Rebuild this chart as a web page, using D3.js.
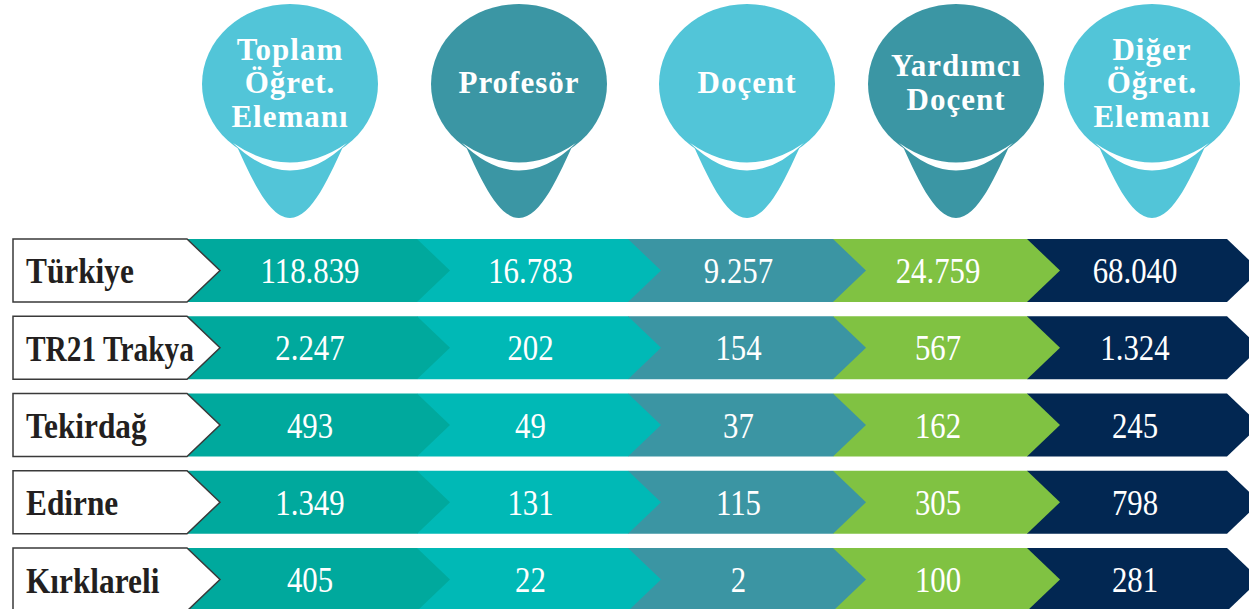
<!DOCTYPE html>
<html>
<head>
<meta charset="utf-8">
<script src="https://cdnjs.cloudflare.com/ajax/libs/d3/7.8.5/d3.min.js"></script>
<style>
  body { margin: 0; background: #fff; }
  svg { display: block; }
</style>
</head>
<body>
<svg id="chart" width="1249" height="609"></svg>
<script>
const COLUMNS = ['toplam', 'profesor', 'docent', 'yrd_docent', 'diger'];
const COLUMN_TITLES = [
    ['Toplam', 'Öğret.', 'Elemanı'],
    ['Profesör'],
    ['Doçent'],
    ['Yardımcı', 'Doçent'],
    ['Diğer', 'Öğret.', 'Elemanı']
];
const REGIONS = ['Türkiye', 'TR21 Trakya', 'Tekirdağ', 'Edirne', 'Kırklareli'];
const TOPLAM = [118839, 2247, 493, 1349, 405];
const PROFESOR = [16783, 202, 49, 131, 22];
const DOCENT = [9257, 154, 37, 115, 2];
const YRD_DOCENT = [24759, 567, 162, 305, 100];
const DIGER = [68040, 1324, 245, 798, 281];

const SEG_COLORS = ['#00a99d', '#00b9b6', '#3b95a3', '#80c242', '#022752'];
const BUBBLE_COLORS = ['#52c5d8', '#3b96a4', '#52c5d8', '#3b96a4', '#52c5d8'];

const svg = d3.select('#chart');
const fmt = d3.formatLocale({decimal: ',', thousands: '.', grouping: [3], currency: ['', '']}).format(',d');

const series = [TOPLAM, PROFESOR, DOCENT, YRD_DOCENT, DIGER];
const rows = REGIONS.map(function(r, i) {
    return {region: r, values: series.map(function(s) { return s[i]; })};
});

// layout
const LABEL_LEFT = 13, LABEL_RIGHT = 187, ARROW = 33, LABEL_MAX_W = 168;
const y = d3.scaleBand().domain(REGIONS).range([239, 611]).paddingInner(0.1845).paddingOuter(0);
const colRight = d3.scaleOrdinal().domain(COLUMNS).range([417, 628, 833, 1027, 1227]);
const colLeft = function(c) {
    const i = COLUMNS.indexOf(c);
    return i === 0 ? LABEL_RIGHT : colRight(COLUMNS[i - 1]);
};
const headerX = d3.scaleOrdinal().domain(COLUMNS).range([290, 519, 747, 956, 1152]);

const chevron = function(x0, x1, top, h) {
    return 'M' + x0 + ',' + top + 'L' + x1 + ',' + top + 'L' + (x1 + ARROW) + ',' + (top + h / 2) +
        'L' + x1 + ',' + (top + h) + 'L' + x0 + ',' + (top + h) + 'Z';
};

// header bubbles
const HEAD_TOP = 4, RX = 88, RY = 80;
const bubbles = svg.selectAll('.bubble').data(COLUMNS)
    .enter().append('g')
    .attr('class', 'bubble')
    .attr('transform', function(d) { return 'translate(' + headerX(d) + ',' + (HEAD_TOP + RY) + ')'; });

bubbles.append('path')
    .attr('d', 'M-56,56 C-40,91 -22,134 0,134 C22,134 40,91 56,56 Z')
    .attr('fill', function(d, i) { return BUBBLE_COLORS[i]; });
bubbles.append('ellipse')
    .attr('rx', RX).attr('ry', RY)
    .attr('fill', function(d, i) { return BUBBLE_COLORS[i]; });
bubbles.append('path')
    .attr('d', 'M-57,59 Q0,114 57,59 Q0,98 -57,59 Z')
    .attr('fill', '#fff');

bubbles.each(function(d, i) {
    const lines = COLUMN_TITLES[i];
    const lh = 33.5;
    const first = 9 - (lines.length - 1) * lh / 2;
    const t = d3.select(this).append('text')
        .attr('text-anchor', 'middle')
        .attr('font-family', '"Liberation Serif", "Times New Roman", serif')
        .attr('font-weight', 'bold')
        .attr('font-size', 31)
        .attr('letter-spacing', 1)
        .attr('fill', '#fff');
    lines.forEach(function(l, j) {
        t.append('tspan').attr('x', 0).attr('y', first + j * lh).text(l);
    });
});

// rows
const rowG = svg.selectAll('.row').data(rows)
    .enter().append('g')
    .attr('class', 'row');

rowG.each(function(row) {
    const g = d3.select(this);
    const top = y(row.region), h = y.bandwidth();
    // right to left so every arrow tip sits over the next segment
    for (let i = COLUMNS.length - 1; i >= 0; i--) {
        const c = COLUMNS[i];
        g.append('path')
            .attr('d', chevron(colLeft(c), colRight(c), top, h))
            .attr('fill', SEG_COLORS[i]);
    }
    g.append('path')
        .attr('d', chevron(LABEL_LEFT, LABEL_RIGHT, top, h))
        .attr('fill', '#fff')
        .attr('stroke', '#3a3a3a')
        .attr('stroke-width', 1.5);
    const lab = g.append('text')
        .attr('font-family', '"Liberation Serif", "Times New Roman", serif')
        .attr('font-weight', 'bold')
        .attr('font-size', 36)
        .attr('fill', '#231f20')
        .text(row.region);
    const sx = Math.min(0.87, LABEL_MAX_W / lab.node().getComputedTextLength());
    lab.attr('transform', 'translate(26,' + (top + h / 2 + 13) + ') scale(' + sx + ',1)');
    row.values.forEach(function(v, i) {
        const c = COLUMNS[i];
        const cx = (colLeft(c) + colRight(c)) / 2 + 8;
        g.append('text')
            .attr('transform', 'translate(' + cx + ',' + (top + h / 2 + 12.5) + ') scale(0.88,1)')
            .attr('text-anchor', 'middle')
            .attr('font-family', '"Liberation Serif", "Times New Roman", serif')
            .attr('font-size', 35)
            .attr('fill', '#fff')
            .text(fmt(v));
    });
});
</script>
</body>
</html>
